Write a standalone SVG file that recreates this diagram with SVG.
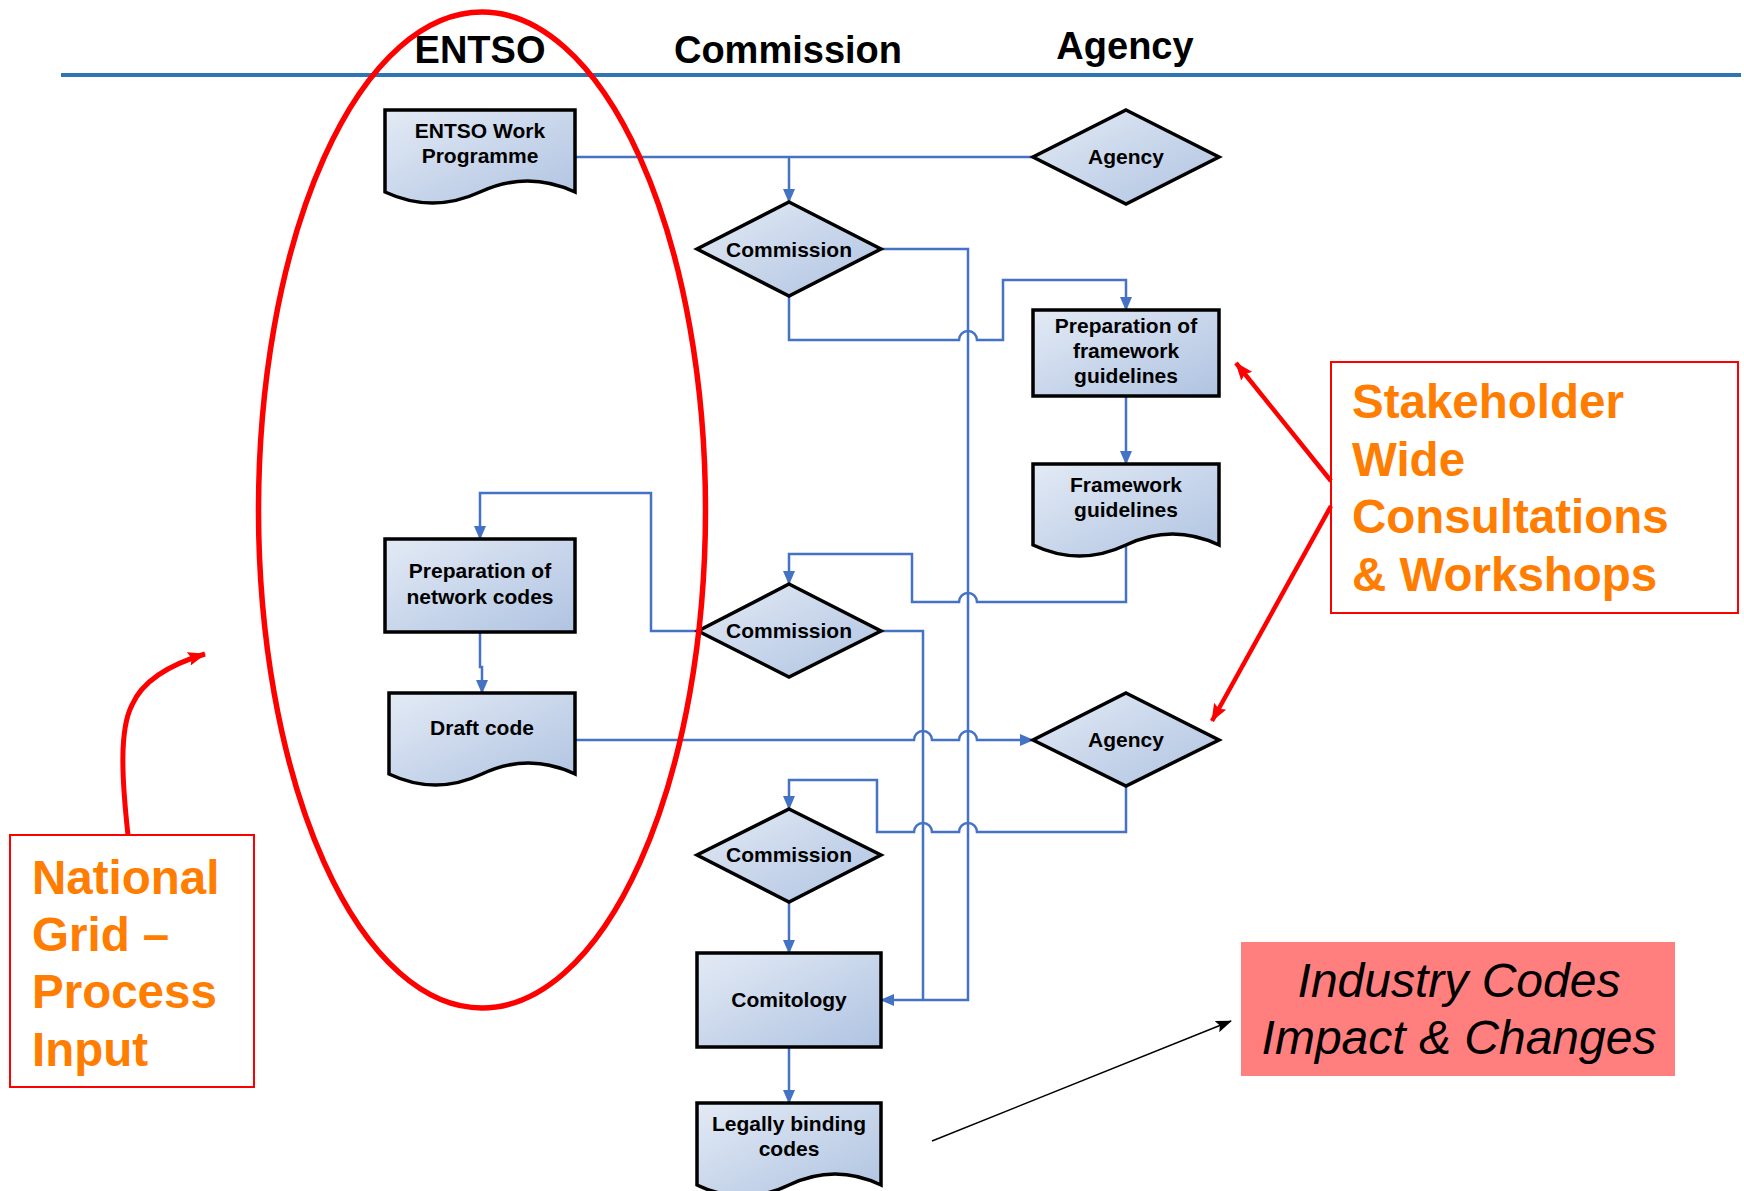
<svg xmlns="http://www.w3.org/2000/svg" width="1744" height="1191" viewBox="0 0 1744 1191">
<style>
.shape{stroke:#000;stroke-width:3.5;fill:url(#gf)}
.lbl{font-family:"Liberation Sans",Arial,sans-serif;font-weight:bold;font-size:21px;fill:#000;text-anchor:middle}
.hdr{font-family:"Liberation Sans",Arial,sans-serif;font-weight:bold;font-size:38px;fill:#000;text-anchor:middle}
.con{fill:none;stroke:#4472C4;stroke-width:2.5}
.orange{font-family:"Liberation Sans",Arial,sans-serif;font-weight:bold;font-size:47.5px;fill:#FF7D00}
.ind{font-family:"Liberation Sans",Arial,sans-serif;font-style:italic;font-size:48px;fill:#000;text-anchor:middle}
.red{fill:none;stroke:#FF0000}
</style>
<defs>
<linearGradient id="gf" x1="0" y1="0" x2="1" y2="1">
<stop offset="0" stop-color="#E3EAF5"/>
<stop offset="1" stop-color="#AFC3E1"/>
</linearGradient>
<marker id="ab" markerUnits="userSpaceOnUse" markerWidth="14" markerHeight="12" viewBox="0 0 14 12" refX="13" refY="6" orient="auto">
<path d="M0,0 L14,6 L0,12 z" fill="#4472C4"/>
</marker>
<marker id="ar" markerUnits="userSpaceOnUse" markerWidth="18" markerHeight="14" viewBox="0 0 18 14" refX="17" refY="7" orient="auto">
<path d="M0,0 L18,7 L0,14 L3,7 z" fill="#FF0000"/>
</marker>
<marker id="ak" markerUnits="userSpaceOnUse" markerWidth="16" markerHeight="12" viewBox="0 0 16 12" refX="15" refY="6" orient="auto">
<path d="M0,0 L16,6 L0,12 L3,6 z" fill="#000"/>
</marker>
</defs>
<rect width="1744" height="1191" fill="#fff"/>

<g id="header">
<line x1="61" y1="75" x2="1741" y2="75" stroke="#2E75B6" stroke-width="4"/>
<text class="hdr" x="480" y="63">ENTSO</text>
<text class="hdr" x="788" y="63">Commission</text>
<text class="hdr" x="1125" y="59">Agency</text>
</g>

<g id="connectors">
<path class="con" d="M575,157 H1033"/>
<path class="con" d="M789,157 V202" marker-end="url(#ab)"/>
<path class="con" d="M881,249 H968 V1000 H881" marker-end="url(#ab)"/>
<path class="con" d="M881,631 H923 V1000"/>
<path class="con" d="M789,296 V340 H959 A9,9 0 0 1 977,340 H1003 V280 H1126 V310" marker-end="url(#ab)"/>
<path class="con" d="M1126,396 V464" marker-end="url(#ab)"/>
<path class="con" d="M1126,545 V602 H977 A9,9 0 0 0 959,602 H912 V554 H789 V584" marker-end="url(#ab)"/>
<path class="con" d="M698,631 H651 V493 H480 V539" marker-end="url(#ab)"/>
<path class="con" d="M480,632 V667 H482 V693" marker-end="url(#ab)"/>
<path class="con" d="M575,740 H914 A9,9 0 0 1 932,740 H959 A9,9 0 0 1 977,740 H1033" marker-end="url(#ab)"/>
<path class="con" d="M1126,786 V832 H977 A9,9 0 0 0 959,832 H932 A9,9 0 0 0 914,832 H877 V780 H789 V809" marker-end="url(#ab)"/>
<path class="con" d="M789,902 V953" marker-end="url(#ab)"/>
<path class="con" d="M789,1047 V1103" marker-end="url(#ab)"/>
</g>

<g id="entso-work-programme">
<path class="shape" d="M385,110 H575 V192 Q527.5,170 480,192 T385,192 Z"/>
<text class="lbl" x="480" y="138">ENTSO Work</text>
<text class="lbl" x="480" y="163">Programme</text>
</g>

<g id="agency-1">
<path class="shape" d="M1126,110 L1219,157 L1126,204 L1033,157 Z"/>
<text class="lbl" x="1126" y="164">Agency</text>
</g>

<g id="commission-1">
<path class="shape" d="M789,202 L881,249 L789,296 L697,249 Z"/>
<text class="lbl" x="789" y="257">Commission</text>
</g>

<g id="prep-framework">
<rect class="shape" x="1033" y="310" width="186" height="86"/>
<text class="lbl" x="1126" y="333">Preparation of</text>
<text class="lbl" x="1126" y="358">framework</text>
<text class="lbl" x="1126" y="383">guidelines</text>
</g>

<g id="framework-guidelines">
<path class="shape" d="M1033,464 H1219 V545 Q1172.5,523 1126,545 T1033,545 Z"/>
<text class="lbl" x="1126" y="492">Framework</text>
<text class="lbl" x="1126" y="517">guidelines</text>
</g>

<g id="prep-network">
<rect class="shape" x="385" y="539" width="190" height="93"/>
<text class="lbl" x="480" y="578">Preparation of</text>
<text class="lbl" x="480" y="604">network codes</text>
</g>

<g id="commission-2">
<path class="shape" d="M789,584 L881,631 L789,677 L698,631 Z"/>
<text class="lbl" x="789" y="638">Commission</text>
</g>

<g id="draft-code">
<path class="shape" d="M389,693 H575 V774 Q528.5,752 482,774 T389,774 Z"/>
<text class="lbl" x="482" y="735">Draft code</text>
</g>

<g id="agency-2">
<path class="shape" d="M1126,693 L1219,740 L1126,786 L1033,740 Z"/>
<text class="lbl" x="1126" y="747">Agency</text>
</g>

<g id="commission-3">
<path class="shape" d="M789,809 L881,855 L789,902 L697,855 Z"/>
<text class="lbl" x="789" y="862">Commission</text>
</g>

<g id="comitology">
<rect class="shape" x="697" y="953" width="184" height="94"/>
<text class="lbl" x="789" y="1007">Comitology</text>
</g>

<g id="legally-binding">
<path class="shape" d="M697,1103 H881 V1185 Q835,1163 789,1185 T697,1185 Z"/>
<text class="lbl" x="789" y="1131">Legally binding</text>
<text class="lbl" x="789" y="1156">codes</text>
</g>

<g id="entso-ellipse">
<ellipse cx="482" cy="510" rx="223.5" ry="498" class="red" stroke-width="5.5"/>
</g>

<g id="stakeholder-note">
<rect x="1331" y="362" width="407" height="251" class="red" stroke-width="2"/>
<text class="orange" x="1352" y="418">Stakeholder</text>
<text class="orange" x="1352" y="476">Wide</text>
<text class="orange" x="1352" y="533">Consultations</text>
<text class="orange" x="1352" y="591">&amp; Workshops</text>
<path class="red" stroke-width="4.5" d="M1331,481 L1236,363" marker-end="url(#ar)"/>
<path class="red" stroke-width="4.5" d="M1331,506 L1212,721" marker-end="url(#ar)"/>
</g>

<g id="national-grid-note">
<rect x="10" y="835" width="244" height="252" class="red" stroke-width="2"/>
<text class="orange" x="32" y="894">National</text>
<text class="orange" x="32" y="951">Grid –</text>
<text class="orange" x="32" y="1008">Process</text>
<text class="orange" x="32" y="1066">Input</text>
<path class="red" stroke-width="5" d="M128,835 C122,780 119,730 132,705 C142,682 168,665 205,654" marker-end="url(#ar)"/>
</g>

<g id="industry-codes">
<rect x="1241" y="942" width="434" height="134" fill="#FF7F7F"/>
<text class="ind" x="1459" y="997">Industry Codes</text>
<text class="ind" x="1459" y="1054">Impact &amp; Changes</text>
<path d="M932,1141 L1231,1021" stroke="#000" stroke-width="1.5" fill="none" marker-end="url(#ak)"/>
</g>
</svg>
